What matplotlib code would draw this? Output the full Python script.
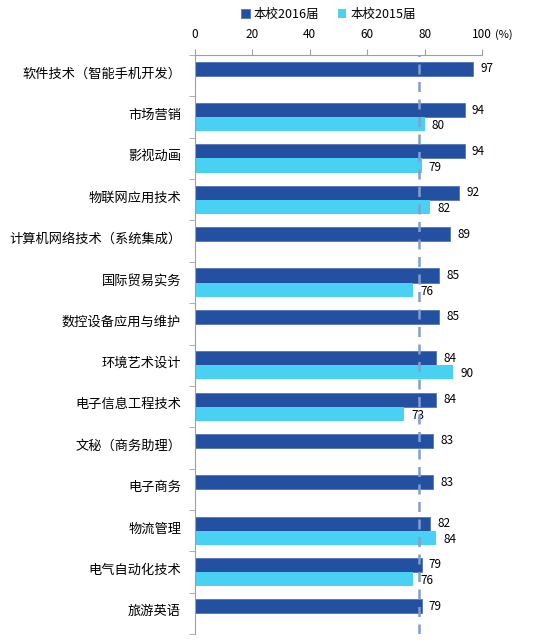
import numpy as np
import matplotlib
matplotlib.use("Agg")
import matplotlib.pyplot as plt
from matplotlib.ticker import FixedLocator

plt.rcParams["font.family"] = ["Noto Sans CJK SC", "DejaVu Sans"]

# 数据
majors = [
    "软件技术（智能手机开发）", "市场营销", "影视动画", "物联网应用技术",
    "计算机网络技术（系统集成）", "国际贸易实务", "数控设备应用与维护",
    "环境艺术设计", "电子信息工程技术", "文秘（商务助理）", "电子商务",
    "物流管理", "电气自动化技术", "旅游英语",
]
y2016 = [97, 94, 94, 92, 89, 85, 85, 84, 84, 83, 83, 82, 79, 79]
y2015 = [None, 80, 79, 82, None, 76, None, 90, 73, None, None, 84, 76, None]
ref_line = 78

c2016 = "#2350A0"
c2015 = "#48D1F3"

fig = plt.figure(figsize=(5.47, 6.44), dpi=100)
ax = fig.add_axes([0.3565, 0.0155, 0.5246, 0.899])

n = len(majors)
pos = np.arange(n)
h = 0.34

ax.barh(pos - h / 2, y2016, height=h, color=c2016, edgecolor="#5577B8", linewidth=0.6,
        label="本校2016届")
for i, v in enumerate(y2016):
    ax.text(v + 2.5, i - h / 2, str(v), va="center", ha="left", fontsize=8.5)

idx15 = [i for i, v in enumerate(y2015) if v is not None]
vals15 = [y2015[i] for i in idx15]
ax.barh(np.array(idx15) + h / 2, vals15, height=h, color=c2015, edgecolor="none",
        label="本校2015届")
for i, v in zip(idx15, vals15):
    ax.text(v + 2.5, i + h / 2 + 0.04, str(v), va="center", ha="left", fontsize=8.5)

ax.axvline(ref_line, color="#7F9FCF", linestyle=(0, (4, 3)), linewidth=1.8, zorder=5)

ax.set_xlim(0, 100)
ax.set_ylim(n - 0.5, -0.5)
ax.xaxis.tick_top()
ax.set_xticks([0, 20, 40, 60, 80, 100])
ax.tick_params(axis="x", direction="out", length=4, color="#A0A0A0", labelsize=8.5, pad=6)
ax.set_yticks(pos - 0.08)
ax.set_yticklabels(majors, fontsize=9.5)
ax.tick_params(axis="y", length=0, pad=10)
ax.yaxis.set_minor_locator(FixedLocator(np.arange(-0.5, n, 1)))
ax.tick_params(axis="y", which="minor", direction="out", length=4, color="#A0A0A0")

for s in ["right", "bottom"]:
    ax.spines[s].set_visible(False)
ax.spines["left"].set_color("#A0A0A0")
ax.spines["top"].set_color("#A0A0A0")

fig.text(0.905, 0.946, "(%)", fontsize=8, ha="left", va="center")

leg = fig.legend(loc="center", bbox_to_anchor=(0.6, 0.978), ncol=2, frameon=False,
                 fontsize=9, handlelength=0.7, handleheight=0.7, columnspacing=1.5,
                 handletextpad=0.3)

fig.savefig("out.png", dpi=100)
